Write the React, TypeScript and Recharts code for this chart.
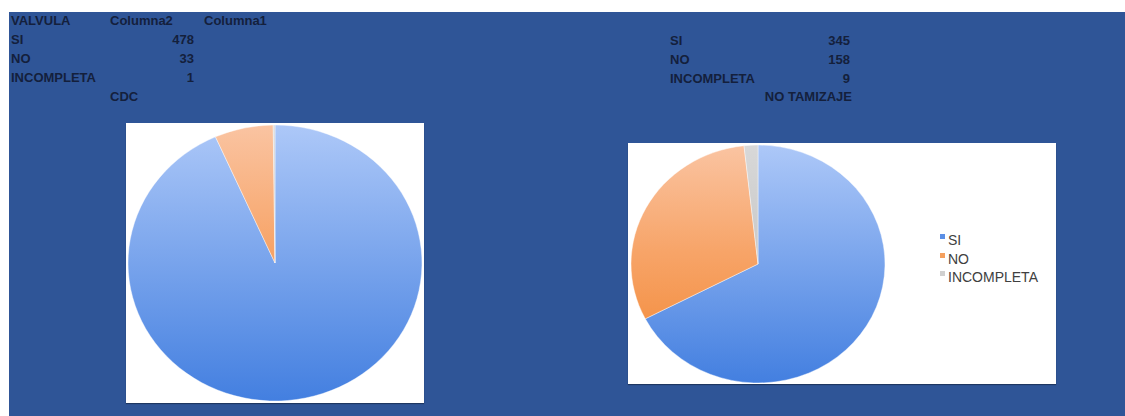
import { PieChart, Pie, Cell } from 'recharts';

// table rows
const categories = ['SI', 'NO', 'INCOMPLETA'];
const cdcValues = [478, 33, 1];
const noTamizajeValues = [345, 158, 9];
const headers = ['VALVULA', 'Columna2', 'Columna1'];

const BG = '#2f5597';
const TEXT = '#14203c';
const SLICE_FILLS = ['url(#gradSi', 'url(#gradNo', 'url(#gradInc'];
const LEGEND_COLORS = ['#5b8fe6', '#f5a05e', '#d0d0d0'];

const toData = (vals: number[]) => categories.map((name, i) => ({ name, value: vals[i] }));

function Gradients({ id, top, bottom }: { id: string; top: number; bottom: number }) {
  return (
    <defs>
      <linearGradient id={`gradSi${id}`} x1="0" y1={top} x2="0" y2={bottom} gradientUnits="userSpaceOnUse">
        <stop offset="0%" stopColor="#adc8f8" />
        <stop offset="100%" stopColor="#437fe0" />
      </linearGradient>
      <linearGradient id={`gradNo${id}`} x1="0" y1={top} x2="0" y2={bottom} gradientUnits="userSpaceOnUse">
        <stop offset="0%" stopColor="#fac4a2" />
        <stop offset="45%" stopColor="#f7a468" />
        <stop offset="100%" stopColor="#f2852f" />
      </linearGradient>
      <linearGradient id={`gradInc${id}`} x1="0" y1={top} x2="0" y2={bottom} gradientUnits="userSpaceOnUse">
        <stop offset="0%" stopColor="#d8d8d8" />
        <stop offset="100%" stopColor="#b8b8b8" />
      </linearGradient>
    </defs>
  );
}

function Cell2({ x, y, w, align, children }: { x: number; y: number; w?: number; align?: 'left' | 'right'; children: React.ReactNode }) {
  // y is the vertical centre of the row
  return (
    <div
      style={{
        position: 'absolute', left: x, top: y - 9, width: w, height: 18, lineHeight: '18px',
        textAlign: align ?? 'left', whiteSpace: 'nowrap', fontSize: 13, fontWeight: 700, color: TEXT,
        fontFamily: '"Liberation Sans", Arial, sans-serif',
      }}
    >
      {children}
    </div>
  );
}

const ROWS_Y = [40, 59, 78];

function StretchedPie({ id, vals, cx, cy, r, sx }: { id: string; vals: number[]; cx: number; cy: number; r: number; sx: number }) {
  const size = 2 * r + 8;
  const c = size / 2;
  return (
    <div style={{ position: 'absolute', left: cx - c, top: cy - c, width: size, height: size, transform: `scaleX(${sx})`, transformOrigin: 'center' }}>
      <PieChart width={size} height={size} margin={{ top: 0, right: 0, bottom: 0, left: 0 }}>
        <Gradients id={id} top={c - r} bottom={c + r} />
        <Pie
          data={toData(vals)}
          dataKey="value"
          nameKey="name"
          cx={c}
          cy={c}
          outerRadius={r}
          startAngle={90}
          endAngle={-270}
          stroke="#ffffff"
          strokeWidth={0.4}
          isAnimationActive={false}
        >
          {vals.map((_, i) => (
            <Cell key={i} fill={`${SLICE_FILLS[i]}${id})`} />
          ))}
        </Pie>
      </PieChart>
    </div>
  );
}

export default function App() {
  return (
    <div style={{ position: 'absolute', left: 0, top: 0, width: 1125, height: 416, background: '#ffffff', overflow: 'hidden' }}>
      <div style={{ position: 'absolute', left: 9, top: 12, width: 1116, height: 404, background: BG }} />

      {/* left table */}
      <Cell2 x={11} y={21}>{headers[0]}</Cell2>
      <Cell2 x={110} y={21}>{headers[1]}</Cell2>
      <Cell2 x={204} y={21}>{headers[2]}</Cell2>
      {categories.map((c, i) => (
        <Cell2 key={c} x={11} y={ROWS_Y[i]}>{c}</Cell2>
      ))}
      {cdcValues.map((v, i) => (
        <Cell2 key={i} x={110} w={84} y={ROWS_Y[i]} align="right">{v}</Cell2>
      ))}
      <Cell2 x={110} y={97}>CDC</Cell2>

      {/* right table */}
      {categories.map((c, i) => (
        <Cell2 key={c} x={670} y={ROWS_Y[i] + 0.5}>{c}</Cell2>
      ))}
      {noTamizajeValues.map((v, i) => (
        <Cell2 key={i} x={760} w={90} y={ROWS_Y[i] + 0.5} align="right">{v}</Cell2>
      ))}
      <Cell2 x={700} w={152} y={97} align="right">NO TAMIZAJE</Cell2>

      {/* left chart */}
      <div style={{ position: 'absolute', left: 126, top: 123, width: 298, height: 280, background: '#ffffff', boxShadow: '0 1px 1px rgba(0,0,0,0.35)' }} />
      <StretchedPie id="Cdc" vals={cdcValues} cx={275} cy={263} r={138} sx={1.065} />

      {/* right chart */}
      <div style={{ position: 'absolute', left: 628, top: 143, width: 428, height: 241, background: '#ffffff', boxShadow: '0 1px 1px rgba(0,0,0,0.35)' }} />
      <StretchedPie id="NoTam" vals={noTamizajeValues} cx={758} cy={264} r={119} sx={1.067} />
      {categories.map((c, i) => (
        <div
          key={c}
          style={{
            position: 'absolute', left: 940, top: 231 + i * 18.5, height: 18, lineHeight: '18px',
            fontSize: 14, color: '#404040', fontFamily: '"Liberation Sans", Arial, sans-serif', whiteSpace: 'nowrap',
          }}
        >
          <span style={{ display: 'inline-block', width: 5, height: 5, background: LEGEND_COLORS[i], marginRight: 3, verticalAlign: 6 }} />
          {c}
        </div>
      ))}
    </div>
  );
}
